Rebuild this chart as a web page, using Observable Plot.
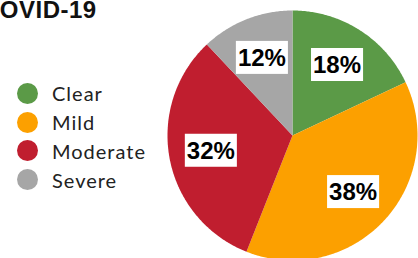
<!DOCTYPE html>
<html>
<head>
<meta charset="utf-8">
<script src="https://cdn.jsdelivr.net/npm/d3@7"></script>
<script src="https://cdn.jsdelivr.net/npm/@observablehq/plot@0.6"></script>
<style>
  html, body { margin: 0; padding: 0; background: #fff; }
  #wrap { position: relative; width: 418px; height: 258px; overflow: hidden; }
  #title { position: absolute; left: -18px; top: -2px; font: bold 24px "Liberation Sans", Arial, sans-serif; letter-spacing: 0.5px; line-height: 1; color: #111; white-space: nowrap; }
  #legend { position: absolute; left: 17px; top: 79px; font-family: Lato, "Open Sans", sans-serif; font-size: 20px; letter-spacing: 1px; color: #222; }
  .row { display: flex; align-items: center; height: 28.8px; }
  .sw { width: 21px; height: 21px; border-radius: 50%; margin-right: 14px; flex: none; }
  #chart { position: absolute; left: 0; top: 0; }
</style>
</head>
<body>
<div id="wrap">
  <div id="chart"></div>
  <div id="title"></div>
  <div id="legend"></div>
</div>
<script>
const title = "COVID-19";
const categories = ["Clear", "Mild", "Moderate", "Severe"];
const values = [18, 38, 32, 12];
const labels = ["18%", "38%", "32%", "12%"];
const colors = ["#5b9a47", "#fca000", "#c01e2f", "#a6a6a6"];

document.getElementById("title").textContent = title;

const legend = d3.select("#legend");
categories.forEach((c, i) => {
  const row = legend.append("div").attr("class", "row");
  row.append("div").attr("class", "sw").style("background", colors[i]);
  row.append("span").text(c);
});

const arcs = d3.pie().sort(null)(values);
const pts = [];
arcs.forEach((a, i) => {
  const cat = categories[i];
  pts.push({cat, x: 0, y: 0});
  const n = Math.max(2, Math.ceil((a.endAngle - a.startAngle) / 0.01));
  for (let k = 0; k <= n; k++) {
    const t = a.startAngle + (a.endAngle - a.startAngle) * k / n;
    pts.push({cat, x: Math.sin(t), y: Math.cos(t)});
  }
  pts.push({cat, x: 0, y: 0});
});
const labelPos = arcs.map((a, i) => {
  const m = (a.startAngle + a.endAngle) / 2;
  return {text: labels[i], x: 0.665 * Math.sin(m), y: 0.665 * Math.cos(m)};
});

const chart = Plot.plot({
  width: 418,
  height: 258,
  style: {background: "transparent", overflow: "hidden"},
  x: {domain: [-1, 1], range: [167, 417], axis: null},
  y: {domain: [-1, 1], range: [260, 10], axis: null},
  color: {domain: categories, range: colors},
  marks: [
    Plot.line(pts, {x: "x", y: "y", z: "cat", fill: "cat", stroke: "none", curve: "linear"}),
    Plot.text(labelPos, {x: "x", y: "y", text: "text", fill: "black", fontSize: 24, fontWeight: "bold", fontFamily: "Liberation Sans, Arial, sans-serif"})
  ]
});
document.getElementById("chart").appendChild(chart);

// white boxes behind the percentage labels
d3.select(chart).selectAll('g[aria-label="text"] text').each(function() {
  const bb = this.getBBox();
  const cy = bb.y + bb.height / 2;
  const r = d3.select(this.parentNode).insert("rect", () => this)
    .attr("x", bb.x - 2).attr("width", bb.width + 4)
    .attr("y", cy - 16.5).attr("height", 33)
    .attr("fill", "white");
  const tr = this.getAttribute("transform");
  if (tr) r.attr("transform", tr);
});
</script>
</body>
</html>
